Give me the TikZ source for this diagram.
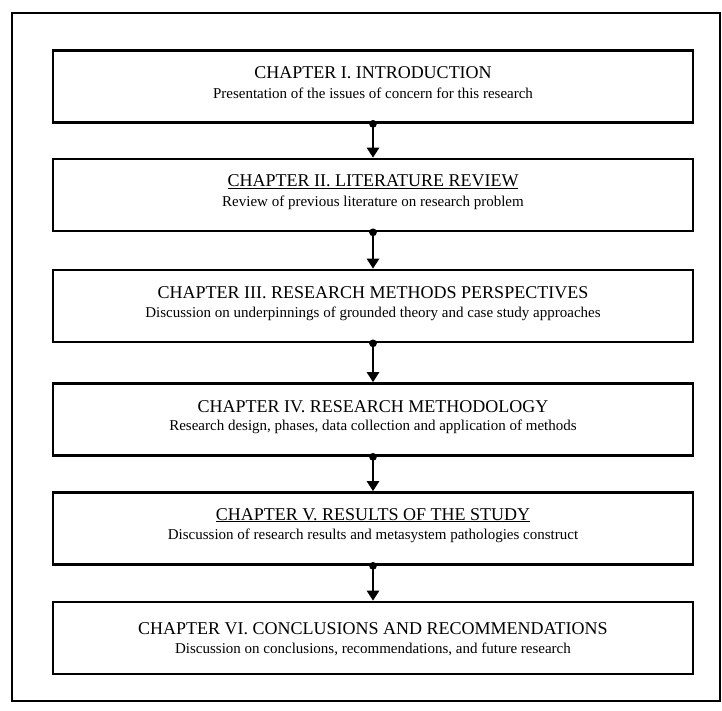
\documentclass[tikz,border=0pt]{standalone}
\usepackage{fontspec}
\setmainfont{Liberation Serif}
\usetikzlibrary{arrows.meta}
\begin{document}
\begin{tikzpicture}[x=1pt,y=1pt,
  chap/.style={draw, line width=2.6pt, minimum width=640pt, minimum height=72pt, inner sep=0pt},
  ttl/.style={inner sep=0pt, font=\fontsize{18}{20}\selectfont},
  sub/.style={inner sep=0pt, font=\fontsize{15}{17}\selectfont},
  conn/.style={line width=2.8pt, {Circle[length=7.5pt]}-{Triangle[length=10pt,width=12pt]}, shorten <=-3.7pt}]
\useasboundingbox (0,0) rectangle (722,711);
% outer frame
\draw[line width=1.8pt] (12,10) rectangle (720,698);

% chapter boxes
\node[chap] (c1) at (373,624.5) {};
\node[chap] (c2) at (373,516) {};
\node[chap] (c3) at (373,405) {};
\node[chap] (c4) at (373,291.5) {};
\node[chap] (c5) at (373,182.5) {};
\node[chap] (c6) at (373,73) {};

% titles and summaries
\node[ttl] (t1) at ([yshift=-23pt]c1.north) {CHAPTER I. INTRODUCTION};
\node[sub] (s1) at ([yshift=-44pt]c1.north) {Presentation of the issues of concern for this research};
\node[ttl] (t2) at ([yshift=-24pt]c2.north) {\underline{CHAPTER II. LITERATURE REVIEW}};
\node[sub] (s2) at ([yshift=-45pt]c2.north) {Review of previous literature on research problem};
\node[ttl] (t3) at ([yshift=-24pt]c3.north) {CHAPTER III. RESEARCH METHODS PERSPECTIVES};
\node[sub] (s3) at ([yshift=-45pt]c3.north) {Discussion on underpinnings of grounded theory and case study approaches};
\node[ttl] (t4) at ([yshift=-24pt]c4.north) {CHAPTER IV. RESEARCH METHODOLOGY};
\node[sub] (s4) at ([yshift=-45pt]c4.north) {Research design, phases, data collection and application of methods};
\node[ttl] (t5) at ([yshift=-24pt]c5.north) {\underline{CHAPTER V. RESULTS OF THE STUDY}};
\node[sub] (s5) at ([yshift=-45pt]c5.north) {Discussion of research results and metasystem pathologies construct};
\node[ttl] (t6) at ([yshift=-28pt]c6.north) {CHAPTER VI. CONCLUSIONS AND RECOMMENDATIONS};
\node[sub] (s6) at ([yshift=-49pt]c6.north) {Discussion on conclusions, recommendations, and future research};

% connectors
\draw[conn] (c1.south) -- (c2.north);
\draw[conn] (c2.south) -- (c3.north);
\draw[conn] (c3.south) -- (c4.north);
\draw[conn] (c4.south) -- (c5.north);
\draw[conn] (c5.south) -- (c6.north);
\end{tikzpicture}
\end{document}
